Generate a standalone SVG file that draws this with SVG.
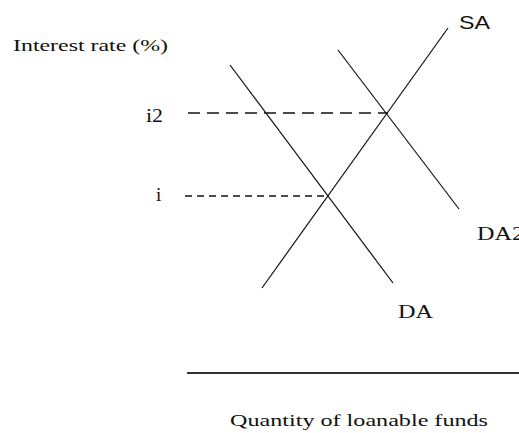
<svg xmlns="http://www.w3.org/2000/svg" width="519" height="433" viewBox="0 0 519 433">
<style>
.t{font-family:"Liberation Serif","Times New Roman",serif;fill:#111}
.s{font-family:"Liberation Sans",Arial,sans-serif;fill:#111}
.c{stroke:#111;stroke-width:1.2;fill:none}
.d{stroke:#111;stroke-width:1.6;fill:none}
</style>
<rect width="519" height="433" fill="#fff"/>
<g id="labels">
<text class="t" x="13" y="51" font-size="16" textLength="155" lengthAdjust="spacingAndGlyphs">Interest rate (%)</text>
<text class="t" x="146" y="122" font-size="19" textLength="17" lengthAdjust="spacingAndGlyphs">i2</text>
<text class="t" x="156" y="201" font-size="19">i</text>
<text class="s" x="459" y="29" font-size="18" textLength="31" lengthAdjust="spacingAndGlyphs">SA</text>
<text class="t" x="477" y="240" font-size="19" textLength="47" lengthAdjust="spacingAndGlyphs">DA2</text>
<text class="t" x="398" y="318" font-size="19" textLength="35" lengthAdjust="spacingAndGlyphs">DA</text>
<text class="t" x="230" y="426" font-size="17" textLength="258" lengthAdjust="spacingAndGlyphs">Quantity of loanable funds</text>
</g>
<g id="connectors">
<line class="c" x1="448" y1="28" x2="262" y2="288"/>
<line class="c" x1="230" y1="65" x2="393" y2="283"/>
<line class="c" x1="338" y1="50" x2="459" y2="209"/>
<line class="d" x1="188" y1="113" x2="388" y2="113" stroke-dasharray="12,7"/>
<line class="d" x1="185" y1="196" x2="328" y2="196" stroke-dasharray="7,5"/>
<line x1="187" y1="373" x2="519" y2="373" stroke="#333" stroke-width="2"/>
</g>
</svg>
